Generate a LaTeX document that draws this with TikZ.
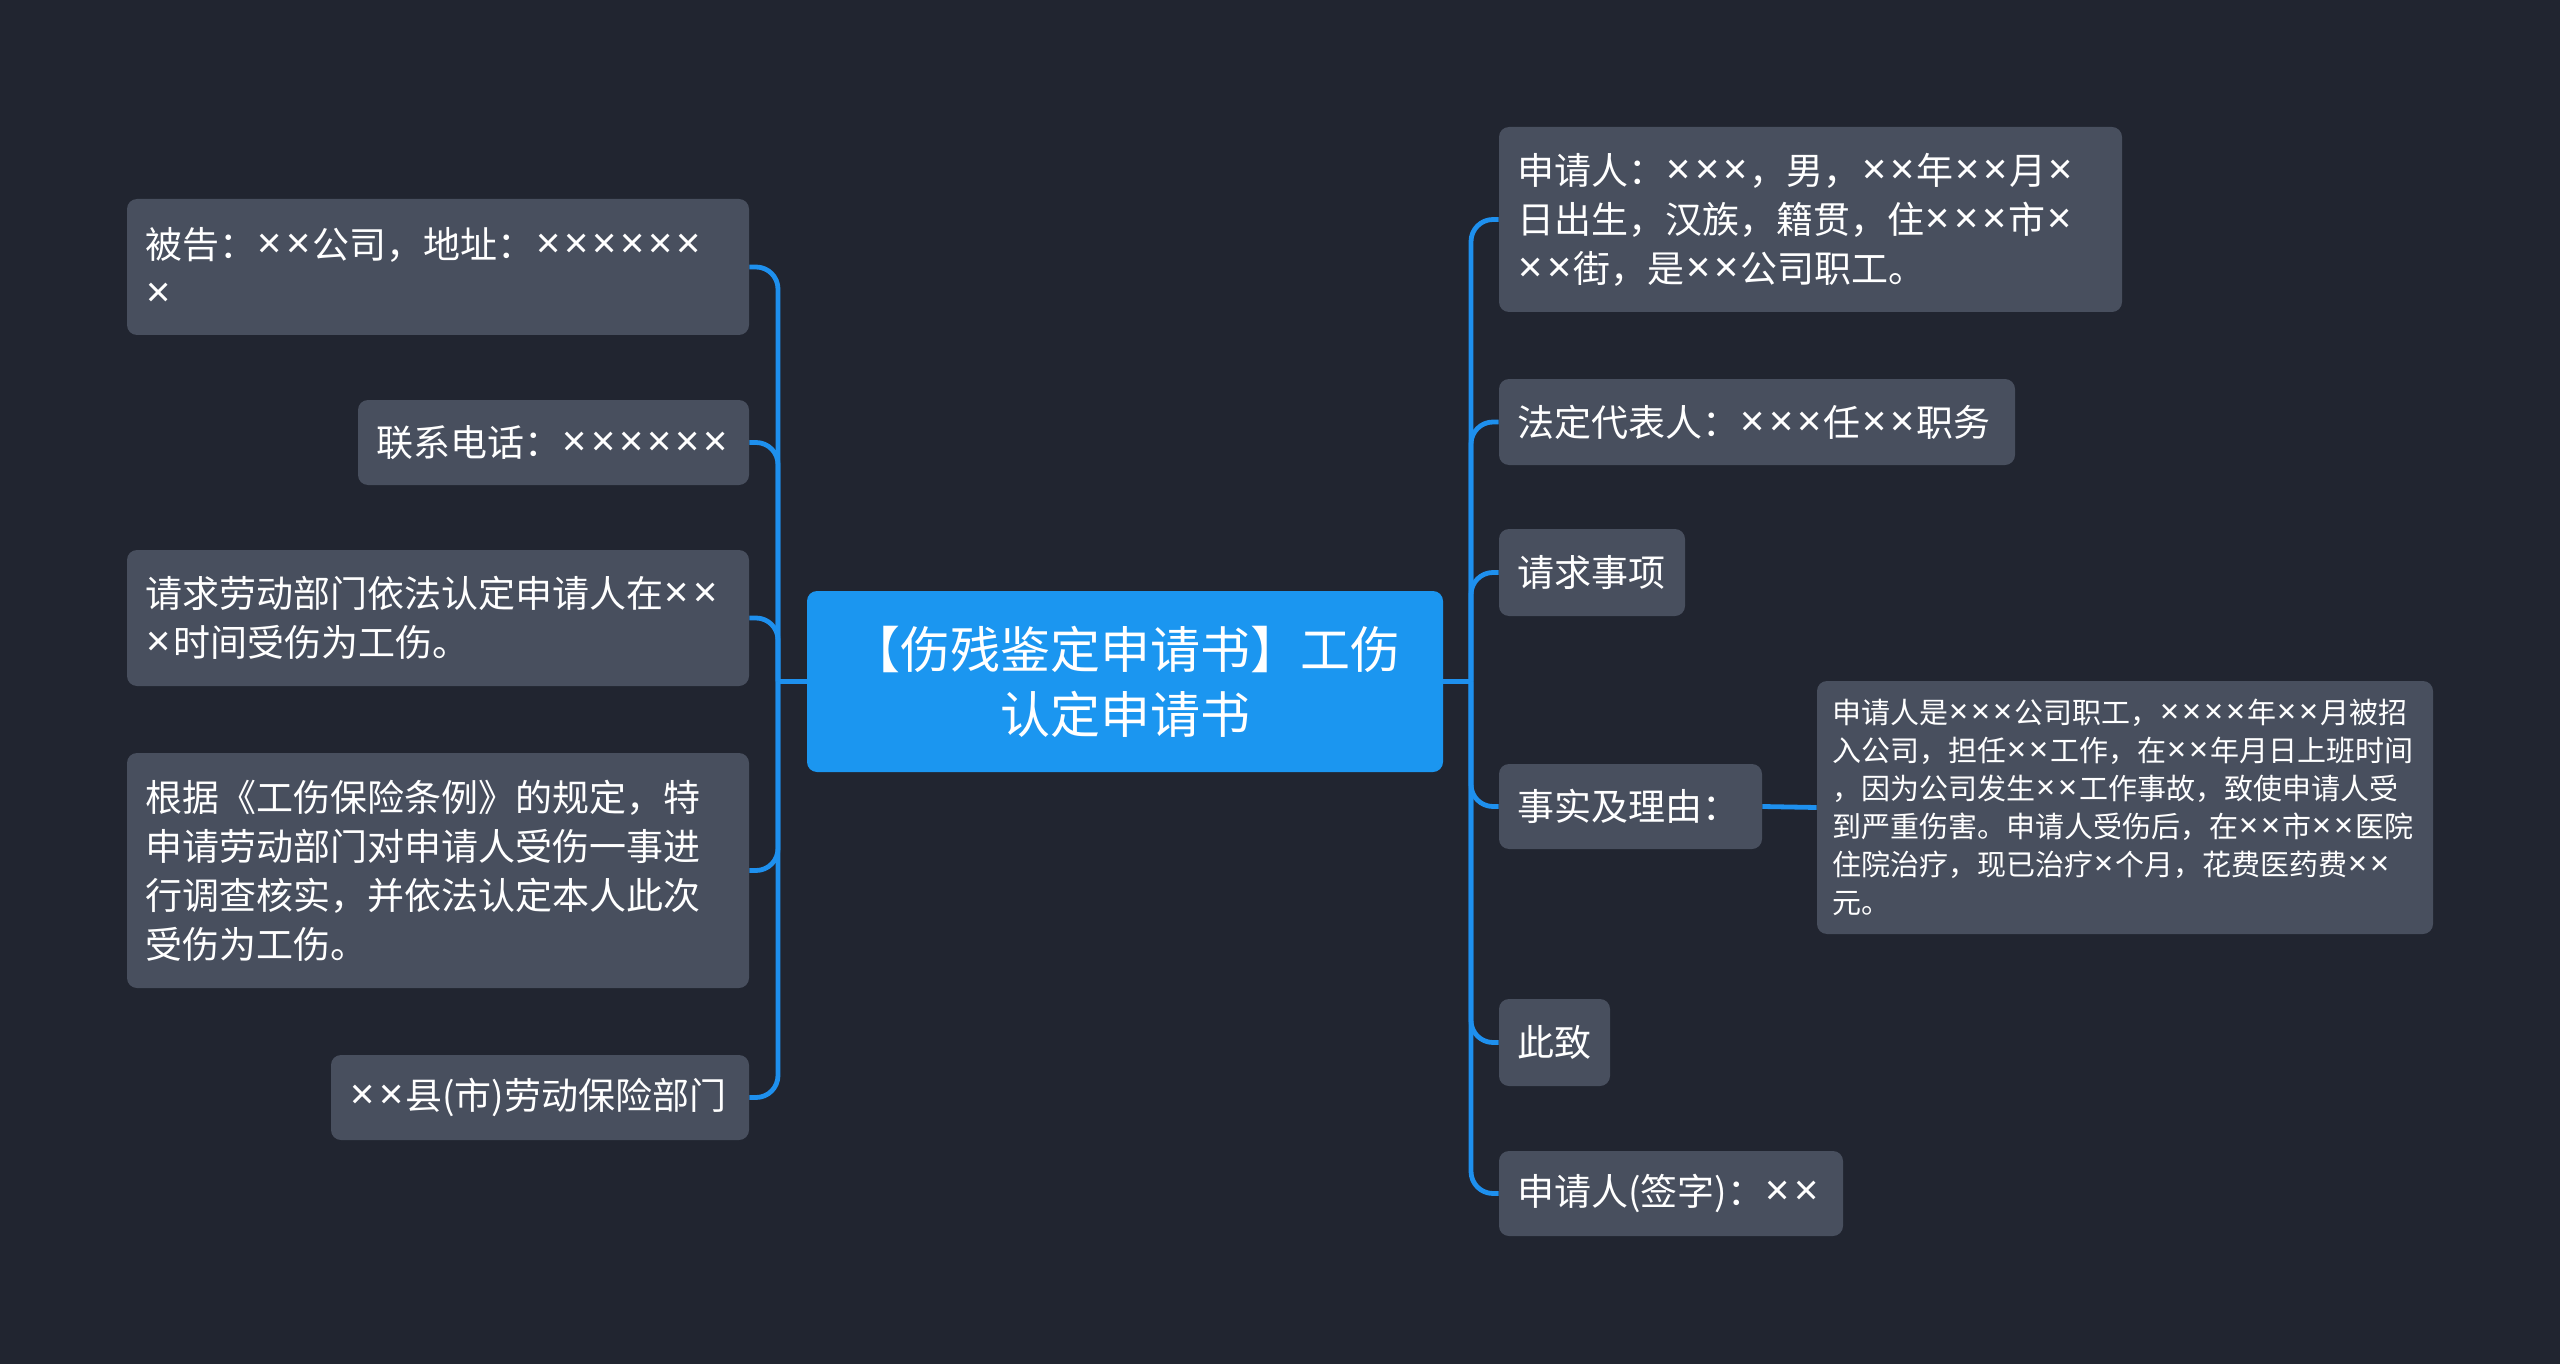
\documentclass[tikz,border=0pt]{standalone}
\usepackage{fontspec}
\usepackage{newunicodechar}
\setmainfont{Noto Sans CJK SC}
\newfontfamily\fontcroix{Noto Sans}
\newcommand{\croix}{\makebox[0.76em]{\fontcroix\scalebox{1.15}{\char"D7}}}
\newunicodechar{×}{\croix}
\definecolor{fond}{RGB}{33,37,48}
\definecolor{boite}{RGB}{72,79,94}
\definecolor{bleu}{RGB}{27,150,240}
\definecolor{trait}{RGB}{30,144,238}
\hfuzz=20pt
\begin{document}
\begin{tikzpicture}[x=0.5pt,y=-0.5pt,
	feuille/.style={fill=boite,rounded corners=5pt,text=white,align=left,
		inner xsep=9pt,inner ysep=0pt,font=\fontsize{18.5}{24.5}\selectfont},
	detail/.style={feuille,inner xsep=7.5pt,font=\fontsize{14.5}{19}\selectfont},
	racine/.style={fill=bleu,rounded corners=5pt,text=white,align=center,
		minimum width=318pt,minimum height=90.5pt,font=\fontsize{25}{32.5}\selectfont},
	lien/.style={draw=trait,line width=2.4pt,rounded corners=11pt}]
	
	% Fond
	\useasboundingbox (0,0) rectangle (2560,1364);
	\fill[fond] (0,0) rectangle (2560,1364);
	
	% Noeud central
	\node[racine] (racine) at (1125,681.5) {【伤残鉴定申请书】工伤\\认定申请书};
	
	% Branches de gauche
	\node[feuille,text width=293pt,minimum height=68pt] (g1) at (438,267)
		{被告：××公司，地址：××××××\\×};
	\node[feuille,text width=177.5pt,minimum height=42.5pt] (g2) at (553.5,442.5)
		{联系电话：××××××};
	\node[feuille,text width=293pt,minimum height=68pt] (g3) at (438,618)
		{请求劳动部门依法认定申请人在××\\×时间受伤为工伤。};
	\node[feuille,text width=293pt,minimum height=117.5pt] (g4) at (438,870.5)
		{根据《工伤保险条例》的规定，特\\申请劳动部门对申请人受伤一事进\\行调查核实，并依法认定本人此次\\受伤为工伤。};
	\node[feuille,text width=191pt,minimum height=42.5pt] (g5) at (540,1097.5)
		{××县(市)劳动保险部门};
	
	% Branches de droite
	\node[feuille,text width=293.5pt,minimum height=92.5pt] (d1) at (1810.5,219.5)
		{申请人：×××，男，××年××月×\\日出生，汉族，籍贯，住×××市×\\××街，是××公司职工。};
	\node[feuille,text width=240pt,minimum height=43pt] (d2) at (1757,422)
		{法定代表人：×××任××职务};
	\node[feuille,text width=75pt,minimum height=43.5pt] (d3) at (1592,572.5)
		{请求事项};
	\node[feuille,text width=113.5pt,minimum height=42.5pt] (d4) at (1630.5,806.5)
		{事实及理由：};
	\node[feuille,text width=37.5pt,minimum height=43.5pt] (d5) at (1554.5,1042.5)
		{此致};
	\node[feuille,text width=154pt,minimum height=42.5pt] (d6) at (1671,1193.5)
		{申请人(签字)：××};
	
	% Detail des faits
	\node[detail,text width=293pt,minimum height=126.5pt] (faits) at (2125,807.5)
		{申请人是×××公司职工，××××年××月被招\\入公司，担任××工作，在××年月日上班时间\\，因为公司发生××工作事故，致使申请人受\\到严重伤害。申请人受伤后，在××市××医院\\住院治疗，现已治疗×个月，花费医药费××\\元。};
	
	% Liens
	\coordinate (pg) at (778,681.5);
	\coordinate (pd) at (1471,681.5);
	\draw[lien] (racine.west) -- (pg);
	\draw[lien] (racine.east) -- (pd);
	\foreach \n in {g1,g2,g3,g4,g5}
		\draw[lien] (pg) |- (\n.east);
	\foreach \n in {d1,d2,d3,d4,d5,d6}
		\draw[lien] (pd) |- (\n.west);
	\draw[lien] (d4.east) -- (faits.west);
	
\end{tikzpicture}
\end{document}
